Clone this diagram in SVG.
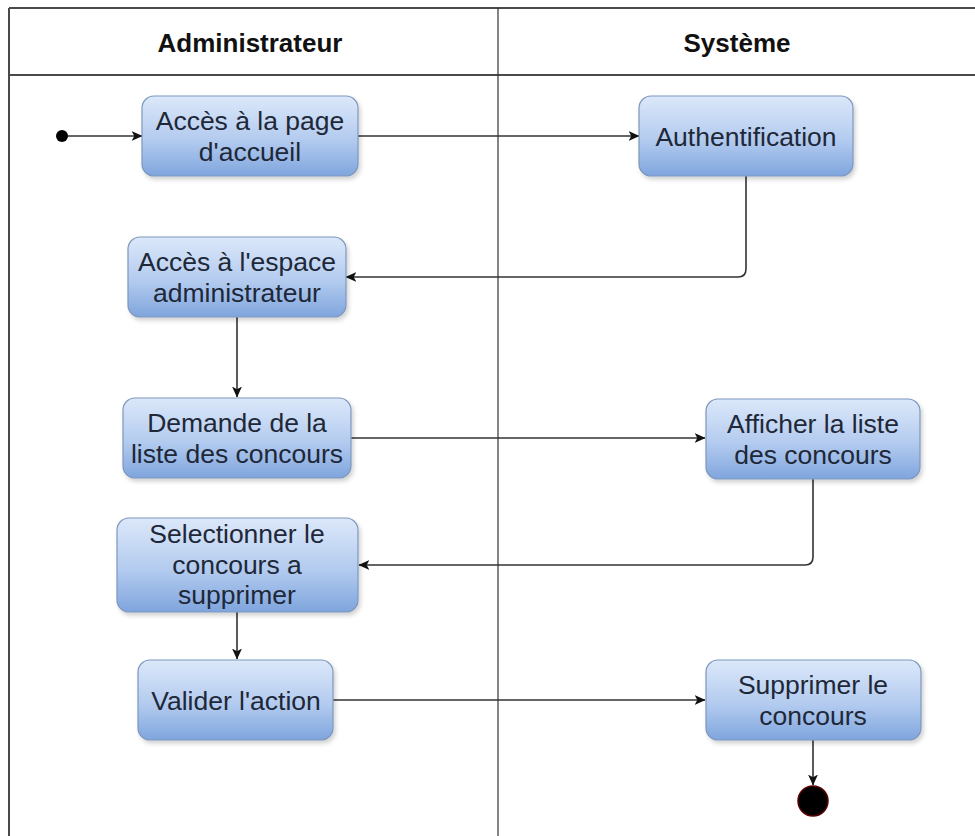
<svg xmlns="http://www.w3.org/2000/svg" width="975" height="836" viewBox="0 0 975 836">
  <style>
    .lane { fill: none; stroke: #4a4a4a; stroke-width: 2; }
    .title { font-family: "Liberation Sans", Arial, sans-serif; font-weight: bold; font-size: 26px; fill: #111; text-anchor: middle; }
    .box { fill: url(#actFill); stroke: #7d97bd; stroke-width: 1.2; filter: url(#shadow); }
    .lbl { font-family: "Liberation Sans", Arial, sans-serif; font-size: 26.5px; fill: #1e2838; text-anchor: middle; }
    .edge { fill: none; stroke: #333; stroke-width: 1.6; marker-end: url(#arrow); }
  </style>
  <defs>
    <linearGradient id="actFill" x1="0" y1="0" x2="0" y2="1">
      <stop offset="0" stop-color="#dce8fa"/>
      <stop offset="0.55" stop-color="#b3cbef"/>
      <stop offset="1" stop-color="#7fa5dd"/>
    </linearGradient>
    <filter id="shadow" x="-10%" y="-10%" width="125%" height="130%">
      <feDropShadow dx="2" dy="3" stdDeviation="2" flood-color="#000" flood-opacity="0.18"/>
    </filter>
    <marker id="arrow" viewBox="0 0 10 10" refX="9.5" refY="5" markerWidth="11" markerHeight="11" markerUnits="userSpaceOnUse" orient="auto">
      <path d="M0,0.5 L10,5 L0,9.5 L2.5,5 Z" fill="#111"/>
    </marker>
  </defs>

  <rect width="975" height="836" fill="#fff"/>

  <!-- swimlanes -->
  <g id="lanes">
    <line class="lane" x1="9" y1="8" x2="975" y2="8"/>
    <line class="lane" x1="9" y1="8" x2="9" y2="836"/>
    <line class="lane" x1="9" y1="75" x2="975" y2="75"/>
    <line x1="498" y1="8" x2="498" y2="836" stroke="#333" stroke-width="1.2"/>
    <text class="title" x="250" y="52">Administrateur</text>
    <text class="title" x="737" y="52">Système</text>
  </g>

  <!-- connectors -->
  <g id="connectors">
    <path class="edge" d="M62,136 H142"/>
    <path class="edge" d="M358,136 H639"/>
    <path class="edge" d="M746,176 V269 Q746,277 738,277 H346"/>
    <path class="edge" d="M237,317 V397"/>
    <path class="edge" d="M351,438 H705"/>
    <path class="edge" d="M813,479 V557 Q813,565 805,565 H359"/>
    <path class="edge" d="M237,612 V659"/>
    <path class="edge" d="M333,700 H705"/>
    <path class="edge" d="M813,740 V785"/>
  </g>

  <!-- start node -->
  <g id="start">
    <circle cx="62" cy="136" r="6" fill="#000"/>
  </g>

  <g id="n1">
    <rect class="box" x="142" y="96" width="216" height="80" rx="12"/>
    <text class="lbl" x="250" y="130">Accès à la page</text>
    <text class="lbl" x="250" y="161">d'accueil</text>
  </g>

  <g id="n2">
    <rect class="box" x="639" y="96" width="214" height="80" rx="12"/>
    <text class="lbl" x="746" y="146">Authentification</text>
  </g>

  <g id="n3">
    <rect class="box" x="128" y="237" width="218" height="80" rx="12"/>
    <text class="lbl" x="237" y="271">Accès à l'espace</text>
    <text class="lbl" x="237" y="302">administrateur</text>
  </g>

  <g id="n4">
    <rect class="box" x="123" y="398" width="228" height="80" rx="12"/>
    <text class="lbl" x="237" y="432">Demande de la</text>
    <text class="lbl" x="237" y="463">liste des concours</text>
  </g>

  <g id="n5">
    <rect class="box" x="706" y="399" width="214" height="80" rx="12"/>
    <text class="lbl" x="813" y="433">Afficher la liste</text>
    <text class="lbl" x="813" y="464">des concours</text>
  </g>

  <g id="n6">
    <rect class="box" x="117" y="518" width="241" height="94" rx="12"/>
    <text class="lbl" x="237" y="543">Selectionner le</text>
    <text class="lbl" x="237" y="574">concours a</text>
    <text class="lbl" x="237" y="604">supprimer</text>
  </g>

  <g id="n7">
    <rect class="box" x="138" y="660" width="195" height="80" rx="12"/>
    <text class="lbl" x="236" y="710">Valider l'action</text>
  </g>

  <g id="n8">
    <rect class="box" x="706" y="660" width="215" height="80" rx="12"/>
    <text class="lbl" x="813" y="694">Supprimer le</text>
    <text class="lbl" x="813" y="725">concours</text>
  </g>

  <!-- final node -->
  <g id="end">
    <circle cx="813" cy="801" r="15" fill="#000" stroke="#5a0000" stroke-width="1.5"/>
  </g>
</svg>
